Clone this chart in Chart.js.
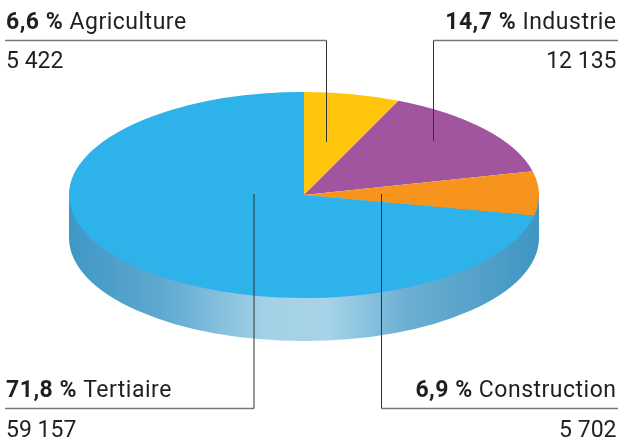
<!DOCTYPE html>
<html lang="fr">
<head>
    <meta charset="UTF-8">
    <title>Emploi par secteur</title>
    <script src="https://cdn.jsdelivr.net/npm/chart.js"></script>
    <style>
        html, body { margin: 0; padding: 0; background: #fff; overflow: hidden; }
        canvas { display: block; }
    </style>
</head>
<body>
    <canvas id="pieChart" width="619" height="439"></canvas>

    <script>
        const categories = ['Agriculture', 'Industrie', 'Construction', 'Tertiaire'];
        const values = [5422, 12135, 5702, 59157];
        const percents = ['6,6 %', '14,7 %', '6,9 %', '71,8 %'];
        const valueLabels = ['5 422', '12 135', '5 702', '59 157'];
        const colors = ['#FFC60B', '#A0559E', '#F7941E', '#2DB2E9'];

        // pie geometry in page pixels
        const radiusX = 235;
        const radiusY = 103;
        const depth = 43;

        // callouts: label side, label rows, and the leader line (elbow + tip)
        const callouts = [
            { i: 0, align: 'left', x: 6, y1: 29, y2: 68, ruleY: 40.5, ruleTo: 5, lineX: 326.5, tipY: 142 },
            { i: 1, align: 'right', x: 616.5, y1: 29, y2: 68, ruleY: 40.5, ruleTo: 618, lineX: 433.5, tipY: 141 },
            { i: 2, align: 'right', x: 616.5, y1: 397, y2: 437, ruleY: 408.5, ruleTo: 618, lineX: 381.5, tipY: 194 },
            { i: 3, align: 'left', x: 6, y1: 397, y2: 437, ruleY: 408.5, ruleTo: 5, lineX: 254, tipY: 194 }
        ];

        const textFont = 'Roboto, sans-serif';
        const textColor = '#231F20';

        const squashPlugin = {
            id: 'squash',
            beforeDatasetsDraw(chart) {
                const arc = chart.getDatasetMeta(0).data[0];
                const ctx = chart.ctx;
                const cx = arc.x, cy = arc.y;

                // side wall of the disc
                const wall = ctx.createLinearGradient(cx - radiusX, 0, cx + radiusX, 0);
                wall.addColorStop(0, '#3F97C6');
                wall.addColorStop(0.2, '#5FA9D0');
                wall.addColorStop(0.42, '#A3D2E7');
                wall.addColorStop(0.55, '#A6D3E8');
                wall.addColorStop(0.72, '#6CAFD2');
                wall.addColorStop(1, '#3F95C3');
                ctx.save();
                ctx.fillStyle = wall;
                ctx.beginPath();
                ctx.ellipse(cx, cy + depth, radiusX, radiusY, 0, 0, Math.PI);
                ctx.lineTo(cx - radiusX, cy);
                ctx.lineTo(cx + radiusX, cy);
                ctx.closePath();
                ctx.fill();
                ctx.restore();

                // flatten the top face
                ctx.save();
                ctx.translate(cx, cy);
                ctx.scale(1, radiusY / radiusX);
                ctx.translate(-cx, -cy);
            },
            afterDatasetsDraw(chart) {
                const ctx = chart.ctx;
                ctx.restore();

                ctx.save();
                callouts.forEach(c => {
                    // leader line
                    ctx.strokeStyle = '#77787A';
                    ctx.lineWidth = 1.5;
                    ctx.beginPath();
                    ctx.moveTo(c.ruleTo, c.ruleY);
                    ctx.lineTo(c.lineX, c.ruleY);
                    ctx.stroke();
                    ctx.strokeStyle = '#333333';
                    ctx.lineWidth = 1;
                    ctx.beginPath();
                    ctx.moveTo(c.lineX, c.ruleY);
                    ctx.lineTo(c.lineX, c.tipY);
                    ctx.stroke();

                    // labels
                    const bold = 'bold 23px ' + textFont;
                    const regular = '23px ' + textFont;
                    const pct = percents[c.i] + ' ';
                    const name = categories[c.i];
                    ctx.fillStyle = textColor;
                    ctx.textBaseline = 'alphabetic';
                    ctx.textAlign = 'left';
                    ctx.letterSpacing = '0.5px';
                    ctx.font = regular;
                    const nameW = ctx.measureText(name).width;
                    ctx.font = bold;
                    const pctW = ctx.measureText(pct).width;
                    const startX = c.align === 'left' ? c.x : c.x - pctW - nameW;
                    ctx.fillText(pct, startX, c.y1);
                    ctx.font = regular;
                    ctx.fillText(name, startX + pctW, c.y1);
                    ctx.letterSpacing = '0px';
                    ctx.textAlign = c.align;
                    ctx.fillText(valueLabels[c.i], c.x, c.y2);
                });
                ctx.restore();
            }
        };

        new Chart(document.getElementById('pieChart'), {
            type: 'pie',
            data: {
                labels: categories,
                datasets: [{
                    data: values,
                    backgroundColor: colors,
                    borderWidth: 0,
                    radius: radiusX,
                    clip: false
                }]
            },
            options: {
                responsive: false,
                animation: false,
                layout: { padding: { right: 11, bottom: 49 } },
                plugins: {
                    legend: { display: false },
                    tooltip: { enabled: false }
                }
            },
            plugins: [squashPlugin]
        });
    </script>
</body>
</html>
